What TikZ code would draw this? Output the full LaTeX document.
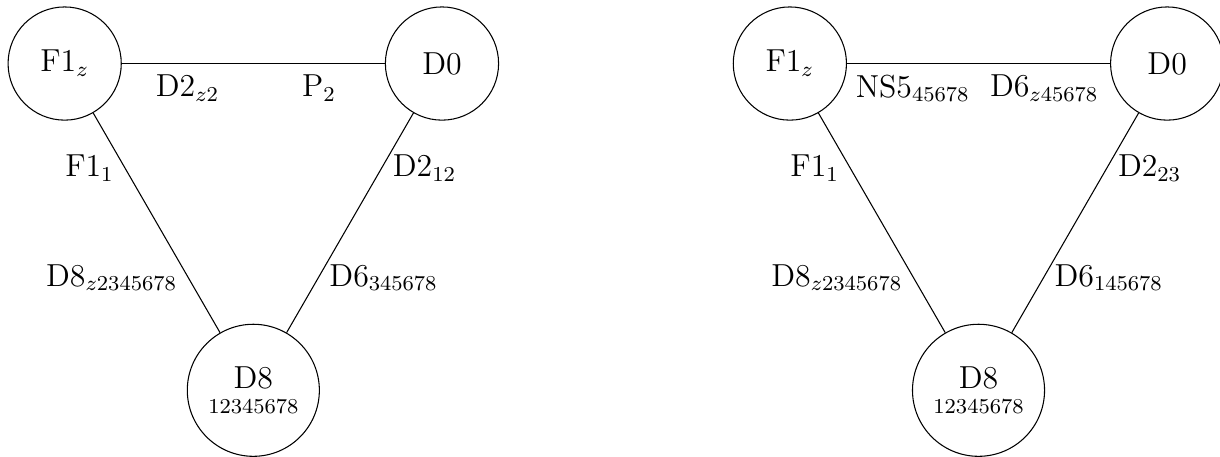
\documentclass[12pt,tikz,border=0pt]{standalone}
\begin{document}
\begin{tikzpicture}[brane/.style={draw,circle,minimum size=1.5cm,inner sep=0pt},
            bigbrane/.style={brane,minimum size=1.75cm,align=center}]
            \useasboundingbox (-0.857,-5.205) rectangle (15.31,0.842);
            \node[brane] (f1) at (0,0) {F1\(_z\)};
            \node[brane] (d0) at (5,0) {D0};
            \node[bigbrane] (d8) at (2.5,-4.33) {D8\\[-5pt] \scriptsize 12345678};
            \draw (f1) -- (d0) node[pos=0.25,below] {D2\(_{z2}\)} node[pos=0.75,below] {P\(_2\)};
            \draw (f1) -- (d8) node[pos=0.25,left] {F1\(_1\)} node[pos=0.75,left] {D8\(_{z2345678}\)};
            \draw (d0) -- (d8) node[pos=0.25,right] {D2\(_{12}\)} node[pos=0.75,right] {D6\(_{345678}\)};
            \begin{scope}[xshift=9.61cm]
                \node[brane] (f1b) at (0,0) {F1\(_z\)};
                \node[brane] (d0b) at (5,0) {D0};
                \node[bigbrane] (d8b) at (2.5,-4.33) {D8\\[-5pt] \scriptsize 12345678};
                \draw (f1b) -- (d0b) node[pos=0.25,below] {NS5\(_{45678}\)} node[pos=0.75,below] {D6\(_{z45678}\)};
                \draw (f1b) -- (d8b) node[pos=0.25,left] {F1\(_1\)} node[pos=0.75,left] {D8\(_{z2345678}\)};
                \draw (d0b) -- (d8b) node[pos=0.25,right] {D2\(_{23}\)} node[pos=0.75,right] {D6\(_{145678}\)};
            \end{scope}
        \end{tikzpicture}
\end{document}
